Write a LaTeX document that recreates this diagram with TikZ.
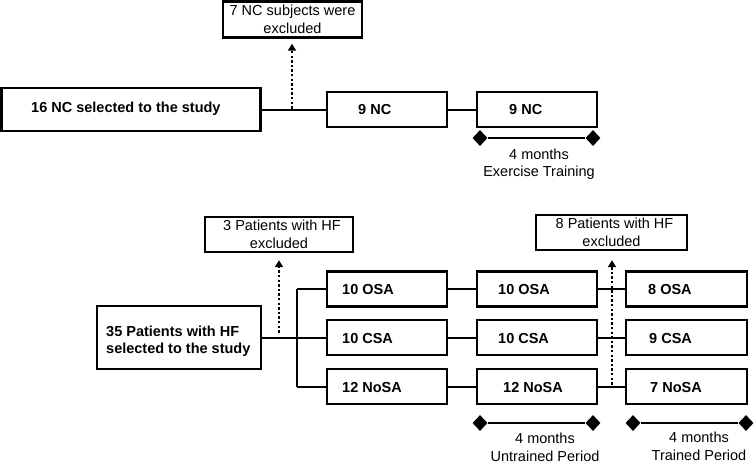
\documentclass[tikz,border=0pt]{standalone}
\usepackage{fontspec}
\setmainfont{Liberation Sans}
\usetikzlibrary{arrows.meta,shapes.geometric}
\begin{document}
\begin{tikzpicture}[x=1pt,y=-1pt,
  box/.style={draw, line width=2.4pt, minimum height=35pt, inner sep=0pt},
  lbl/.style={font=\fontsize{14.5}{17}\selectfont\bfseries, anchor=west, inner sep=0pt},
  note/.style={font=\fontsize{14.5}{17.5}\selectfont, align=center, inner sep=0pt},
  conn/.style={line width=2pt},
  excl/.style={line width=2.6pt, dash pattern=on 2.4pt off 2.2pt, -{Triangle[width=8pt,length=7pt]}},
  dmd/.style={diamond, fill=black, minimum width=15pt, minimum height=16pt, inner sep=0pt}]
\useasboundingbox (0,0) rectangle (754,463);
% ---------- top row ----------
\node[box, minimum width=259pt, minimum height=43pt] (nc16) at (131,109.5) {};
\node[lbl] (t16) at (31,109) {16 NC selected to the study};
\node[box, minimum width=120pt] (nca) at (387,109.5) {};
\node[lbl] (tnca) at (358,110) {9 NC};
\node[box, minimum width=120pt] (ncb) at (537,109.5) {};
\node[lbl] (tncb) at (509,110) {9 NC};
\node[box, note, minimum width=139pt, minimum height=36pt] (exa) at (292.5,19.5) {7 NC subjects were\\excluded};
\draw[conn] (nc16.east) -- (nca.west);
\draw[conn] (nca.east) -- (ncb.west);
\coordinate (xa) at (292,109.5);
\draw[excl, shorten <=1pt, shorten >=5pt] (xa) -- (xa |- exa.south);
\node[dmd] (b1l) at (480,138) {};
\node[dmd] (b1r) at (593,138) {};
\draw[conn] (b1l) -- (b1r);
\node[note] (t1) at (539,164) {4 months\\Exercise Training};
% ---------- bottom ----------
\node[box, note, minimum width=148pt] (exb) at (279,234.5) {\hspace*{6pt}3 Patients with HF\\excluded};
\node[box, note, minimum width=151pt] (exc) at (611.5,232.5) {\hspace*{6pt}8 Patients with HF\\excluded};
\node[box, minimum width=164pt, minimum height=63pt] (hf) at (179,337.5) {};
\node[lbl, align=left] (thf) at (106,341.5) {35 Patients with HF\\selected to the study};
% column 1
\node[box, minimum width=120pt] (osa1) at (387,289) {};
\node[box, minimum width=120pt] (csa1) at (387,337.5) {};
\node[box, minimum width=120pt] (nos1) at (387,386.5) {};
\node[lbl] at (342,290) {10 OSA};
\node[lbl] at (342,338.5) {10 CSA};
\node[lbl] at (342,387.5) {12 NoSA};
% column 2
\node[box, minimum width=120pt] (osa2) at (537,289) {};
\node[box, minimum width=120pt] (csa2) at (537,337.5) {};
\node[box, minimum width=120pt] (nos2) at (537,386.5) {};
\node[lbl] at (498,290) {10 OSA};
\node[lbl] at (498,338.5) {10 CSA};
\node[lbl] at (503,387.5) {12 NoSA};
% column 3
\node[box, minimum width=121pt] (osa3) at (686.5,289) {};
\node[box, minimum width=121pt] (csa3) at (686.5,337.5) {};
\node[box, minimum width=121pt] (nos3) at (686.5,386.5) {};
\node[lbl] at (648,290) {8 OSA};
\node[lbl] at (649,338.5) {9 CSA};
\node[lbl] at (650,387.5) {7 NoSA};
% connectors
\coordinate (jt) at (297,289);
\coordinate (jb) at (297,386.5);
\draw[conn] (hf.east) -- (csa1.west);
\draw[conn] (jt) -- (jb);
\draw[conn] (jt) -- (osa1.west);
\draw[conn] (jb) -- (nos1.west);
\draw[conn] (osa1.east) -- (osa2.west);
\draw[conn] (csa1.east) -- (csa2.west);
\draw[conn] (nos1.east) -- (nos2.west);
\draw[conn] (osa2.east) -- (osa3.west);
\draw[conn] (csa2.east) -- (csa3.west);
\draw[conn] (nos2.east) -- (nos3.west);
\coordinate (xb) at (279,337.5);
\draw[excl, shorten <=5pt, shorten >=7pt] (xb) -- (xb |- exb.south);
\coordinate (xc) at (612,386.5);
\draw[excl, shorten <=2pt, shorten >=9pt] (xc) -- (xc |- exc.south);
% period bars
\node[dmd] (b2l) at (480,423) {};
\node[dmd] (b2r) at (593,423) {};
\draw[conn] (b2l) -- (b2r);
\node[note] (t2) at (545,447.5) {4 months\\Untrained Period};
\node[dmd] (b3l) at (633,423) {};
\node[dmd] (b3r) at (746,423) {};
\draw[conn] (b3l) -- (b3r);
\node[note] (t3) at (699,446.5) {4 months\\Trained Period};
\end{tikzpicture}
\end{document}
